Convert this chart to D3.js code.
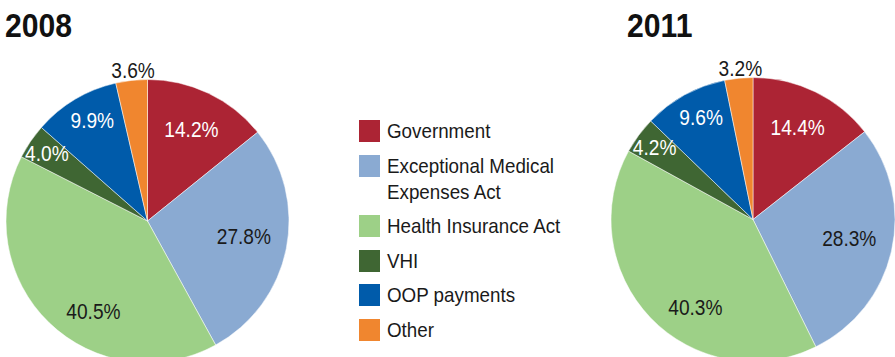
<!DOCTYPE html>
<html lang="en">
<head>
  <meta charset="UTF-8">
  <title>Health expenditure by source, 2008 and 2011</title>
  <style>
  body { margin: 0; background: #fff; }
  svg { display: block; font-family: 'Liberation Sans', Arial, sans-serif; }
  .title { font-weight: bold; font-size: 33.5px; fill: #111; }
  .pct { font-size: 22px; }
  .legend text { font-size: 20px; fill: #1a1a1a; }
  path.slice { stroke: #fff; stroke-width: 0.5px; }
  </style>
</head>
<body>
  <svg></svg>
  <script src="https://d3js.org/d3.v7.min.js"></script>
  <script>

  var categories = ['Government', 'Exceptional Medical Expenses Act', 'Health Insurance Act', 'VHI', 'OOP payments', 'Other'];
  var legendLines = [['Government'], ['Exceptional Medical', 'Expenses Act'], ['Health Insurance Act'], ['VHI'], ['OOP payments'], ['Other']];
  var years = ['2008', '2011'];
  var values2008 = [14.2, 27.8, 40.5, 4.0, 9.9, 3.6];
  var values2011 = [14.4, 28.3, 40.3, 4.2, 9.6, 3.2];

  var width = 895, height = 357;
  var svg = d3.select('svg').attr('width', width).attr('height', height);

  var color = d3.scaleOrdinal()
    .domain(categories)
    .range(['#ac2434', '#8aaad2', '#9dd087', '#3f6633', '#005baa', '#f0862f']);

  // label colour: white on the dark slices
  var labelColor = d3.scaleOrdinal()
    .domain(categories)
    .range(['#fff', '#1a1a1a', '#1a1a1a', '#fff', '#fff', '#1a1a1a']);

  // where each label sits, as fraction of radius and angle nudge (degrees)
  var labelRadius = d3.scaleOrdinal().domain(categories).range([0.72, 0.69, 0.74, 0.86, 0.81, 1.07]);
  var labelNudge = d3.scaleOrdinal().domain(categories).range([0, -2, -13, 0, 2, 1]);

  // the original type is a condensed grotesque, so squeeze Liberation a bit
  var narrow = 'scale(0.87,1)';

  var pies = [
    { year: years[0], values: values2008, cx: 147.5, cy: 221, r: 141.5, tx: 5 },
    { year: years[1], values: values2011, cx: 753, cy: 219.5, r: 142, tx: 627 }
  ];

  var pie = d3.pie().sort(null).value(function (d) { return d.value; });

  pies.forEach(function (p) {
    var data = categories.map(function (c, i) { return { name: c, value: p.values[i] }; });
    var arcs = pie(data);
    var arc = d3.arc().innerRadius(0).outerRadius(p.r);

    svg.append('text')
      .attr('class', 'title')
      .attr('transform', 'translate(' + p.tx + ',37) scale(0.9,1)')
      .text(p.year);

    var g = svg.append('g').attr('transform', 'translate(' + p.cx + ',' + p.cy + ')');

    g.selectAll('path')
      .data(arcs)
      .enter()
      .append('path')
      .attr('class', 'slice')
      .attr('d', arc)
      .attr('fill', function (d) { return color(d.data.name); });

    g.selectAll('text')
      .data(arcs)
      .enter()
      .append('text')
      .attr('class', 'pct')
      .attr('text-anchor', 'middle')
      .attr('dy', '0.36em')
      .attr('fill', function (d) { return labelColor(d.data.name); })
      .attr('transform', function (d) {
        var a = (d.startAngle + d.endAngle) / 2 + labelNudge(d.data.name) * Math.PI / 180;
        var k = p.r * labelRadius(d.data.name);
        return 'translate(' + (Math.sin(a) * k) + ',' + (-Math.cos(a) * k) + ') ' + narrow;
      })
      .text(function (d) { return d.data.value.toFixed(1) + '%'; });
  });

  // legend
  var legendY = [120, 155, 215, 250, 284, 319];
  var legend = svg.append('g').attr('class', 'legend');

  var item = legend.selectAll('g')
    .data(categories)
    .enter()
    .append('g')
    .attr('transform', function (d, i) { return 'translate(359,' + legendY[i] + ')'; });

  item.append('rect')
    .attr('width', 21)
    .attr('height', 22)
    .attr('fill', function (d) { return color(d); });

  item.append('text')
    .attr('transform', 'translate(28,18) scale(0.94,1)')
    .selectAll('tspan')
    .data(function (d, i) { return legendLines[i]; })
    .enter()
    .append('tspan')
    .attr('x', 0)
    .attr('dy', function (d, i) { return i ? 26 : 0; })
    .text(function (d) { return d; });

  </script>
</body>
</html>
